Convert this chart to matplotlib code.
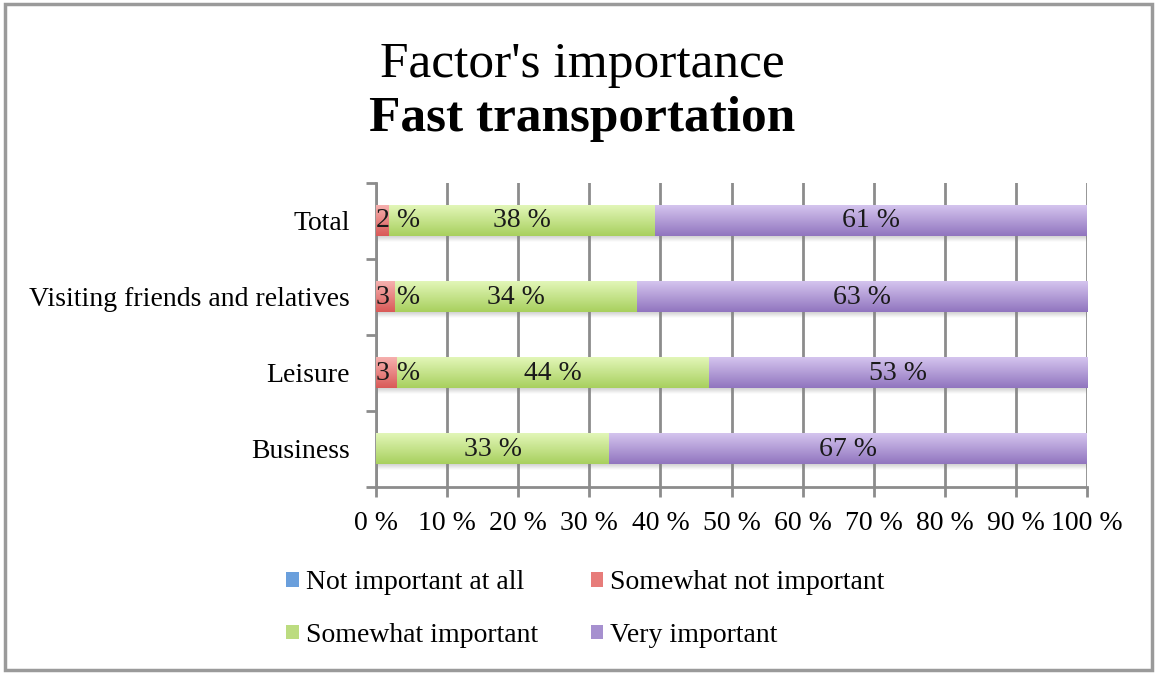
import numpy as np
import matplotlib.pyplot as plt
from matplotlib.colors import LinearSegmentedColormap
from matplotlib.patches import Patch, Rectangle

plt.rcParams['font.family'] = ['Liberation Serif', 'DejaVu Serif']

categories = ["Business", "Leisure", "Visiting friends and relatives", "Total"]
series = ["Not important at all", "Somewhat not important",
          "Somewhat important", "Very important"]
not_important = [0, 0, 0, 0]
somewhat_not = [0, 3.0, 2.7, 1.8]
somewhat_imp = [32.8, 43.8, 34.0, 37.5]
very_imp = [67.2, 53.2, 63.3, 60.7]
xticks = [0, 10, 20, 30, 40, 50, 60, 70, 80, 90, 100]

# top / bottom gradient colours per series
grads = [("#8fbcef", "#4f88d0"),
         ("#f6b0ae", "#d95a58"),
         ("#e2f6b8", "#a8d05e"),
         ("#d4c4ee", "#9175bf")]
solid = ["#6a9fdc", "#e77c7a", "#bcdc80", "#a690cf"]

fig = plt.figure(figsize=(11.57, 6.73), dpi=100)
ax = fig.add_axes([376/1157, 1-487/673, 711/1157, 304/673])

y = np.arange(len(categories))
h = 0.40
fs = 20
data = [not_important, somewhat_not, somewhat_imp, very_imp]
left = np.zeros(len(categories))
for i, vals in enumerate(data):
    vals = np.array(vals, dtype=float)
    bars = ax.barh(y, vals, left=left, height=h, color=solid[i], zorder=3)
    cmap = LinearSegmentedColormap.from_list("g%d" % i, [grads[i][1], grads[i][0]])
    for b, v in zip(bars, vals):
        if v <= 0:
            continue
        x0, y0 = b.get_x(), b.get_y()
        ax.imshow(np.linspace(0, 1, 50).reshape(-1, 1), cmap=cmap, aspect="auto",
                  origin="lower", extent=(x0, x0 + b.get_width(), y0, y0 + h),
                  zorder=4, interpolation="bilinear")
        lab = "%d %%" % round(v)
        # small labels get pushed inside the plot area, like Excel does
        if x0 + v/2 < 3:
            ax.text(0, y0 + h/2, lab, ha="left", va="center",
                    fontsize=fs, zorder=6, color="#1a1a1a")
        else:
            ax.text(x0 + v/2, y0 + h/2, lab, ha="center", va="center",
                    fontsize=fs, zorder=6, color="#1a1a1a")
    left += vals

# soft shadow under each bar
shade = LinearSegmentedColormap.from_list("sh", [(0.5, 0.5, 0.5, 0.0), (0.5, 0.5, 0.5, 0.35)])
for yy in y:
    ax.imshow(np.linspace(0, 1, 20).reshape(-1, 1), cmap=shade, aspect="auto",
              origin="lower", extent=(0, left.max(), yy - h/2 - 0.07, yy - h/2),
              zorder=2, interpolation="bilinear")

ax.set_xlim(0, 100)
ax.set_ylim(-0.5, 3.5)
ax.set_xticks(xticks)
ax.set_xticklabels(["%d %%" % t for t in xticks], fontsize=fs)
ax.set_yticks(y)
ax.set_yticklabels(categories, fontsize=fs)
ax.set_yticks(np.arange(-0.5, 4.0, 1.0), minor=True)
ax.tick_params(axis="y", which="major", length=0, pad=19)
ax.tick_params(axis="y", which="minor", length=7, width=2, color="#8c8c8c")
ax.tick_params(axis="x", length=7, width=2, color="#8c8c8c", pad=10)
ax.grid(axis="x", color="#8c8c8c", linewidth=2, zorder=1)
ax.set_axisbelow(True)
for s in ["top", "right"]:
    ax.spines[s].set_visible(False)
for s in ["left", "bottom"]:
    ax.spines[s].set_color("#8c8c8c")
    ax.spines[s].set_linewidth(2)

fig.text(0.503, 1-65/673, "Factor's importance", ha="center", va="center", fontsize=37)
fig.text(0.503, 1-119/673, "Fast transportation", ha="center", va="center",
         fontsize=37, fontweight="bold")

handles = [Patch(facecolor=solid[k]) for k in range(4)]
order = [0, 2, 1, 3]
fig.legend([handles[k] for k in order], [series[k] for k in order], ncol=2,
           loc="center", bbox_to_anchor=(0.506, 1-609/673), frameon=False,
           fontsize=fs, handlelength=0.45, handleheight=0.45, handletextpad=0.25,
           columnspacing=1.9, labelspacing=1.0)

fig.patches.append(Rectangle((0.004, 0.005), 0.992, 0.989, transform=fig.transFigure,
                             fill=False, edgecolor="#9a9a9a", linewidth=2.5))

fig.savefig("out.png", dpi=100)
